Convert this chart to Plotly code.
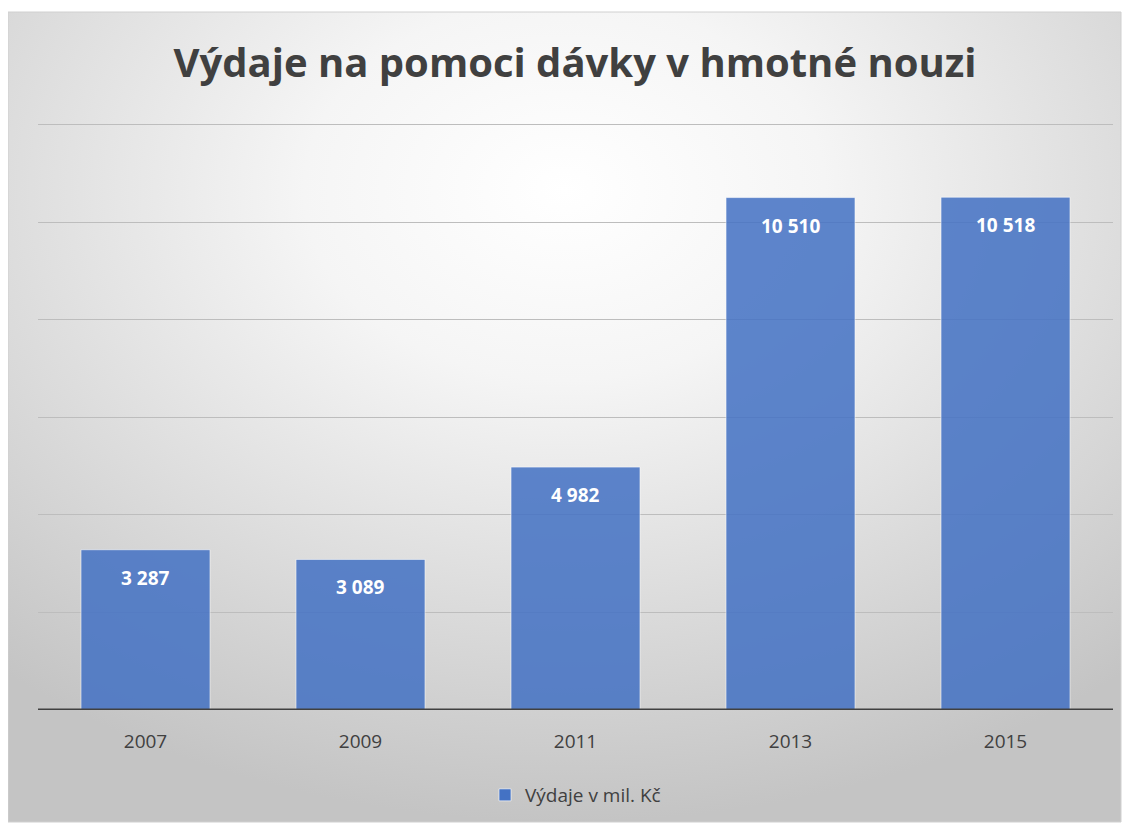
import base64
import plotly.graph_objects as go

years = ["2007", "2009", "2011", "2013", "2015"]
values = [3287, 3089, 4982, 10510, 10518]
series_name = "Výdaje v mil. Kč"
title = "Výdaje na pomoci dávky v hmotné nouzi"

OFF = 8  # default page body margin
Y_MAX = 12060
W, H = 1131 - OFF, 825 - OFF
B = 115
T = round(825 - B - 585 * Y_MAX / 12000) - OFF
L, R = 38 - OFF, 18
pw, ph = W - L - R, H - T - B

def px_x(px):
    return (px - OFF - L) / pw

def px_y(py):
    return (H - B - (py - OFF)) / ph

svg = """<svg xmlns='http://www.w3.org/2000/svg' width='1113' height='810' viewBox='0 0 1113 810' preserveAspectRatio='none'>
<defs><radialGradient id='g' cx='0.5' cy='0.22' r='0.78' gradientUnits='objectBoundingBox'>
<stop offset='0' stop-color='#ffffff'/><stop offset='0.3' stop-color='#f5f5f5'/><stop offset='1' stop-color='#c4c4c4'/>
</radialGradient></defs><rect width='1113' height='810' fill='url(#g)'/></svg>"""
src = "data:image/svg+xml;base64," + base64.b64encode(svg.encode()).decode()

fig = go.Figure()
fig.add_trace(go.Bar(
    x=years, y=values, name=series_name,
    marker=dict(color="#4472C4", opacity=0.86, line=dict(color="rgba(255,255,255,0.6)", width=1)),
    showlegend=True,
))

for i, yv in enumerate(values):
    fig.add_annotation(x=i, y=yv, text="<b>" + f"{yv:,}".replace(",", " ") + "</b>",
                       showarrow=False, yshift=-28, yanchor="middle",
                       font=dict(family="Open Sans", size=19, color="white"))

panel_x0, panel_x1 = px_x(8), px_x(1121)
panel_y0, panel_y1 = px_y(822), px_y(12)
fig.add_layout_image(dict(source=src, xref="paper", yref="paper", x=panel_x0, y=panel_y1,
                          sizex=panel_x1 - panel_x0, sizey=panel_y1 - panel_y0,
                          xanchor="left", yanchor="top", sizing="stretch", layer="below"))
fig.add_shape(type="rect", xref="paper", yref="paper", x0=panel_x0, x1=panel_x1, y0=panel_y0, y1=panel_y1,
              line=dict(color="#d0d0d0", width=1), fillcolor="rgba(0,0,0,0)", layer="below")
fig.add_shape(type="line", xref="paper", yref="y", x0=0, x1=1, y0=0, y1=0,
              line=dict(color="#404040", width=3), layer="above")

fig.update_layout(
    width=W, height=H,
    margin=dict(l=L, r=R, t=T, b=B, autoexpand=False),
    paper_bgcolor="white", plot_bgcolor="rgba(0,0,0,0)",
    title=dict(text="<b>" + title + "</b>", x=(575 - OFF) / W, xanchor="center", y=1 - (63 - OFF) / H,
               yanchor="middle", font=dict(family="Open Sans", size=40, color="#404040")),
    xaxis=dict(type="category", range=[-0.5, 4.5], showgrid=False, showline=False,
               ticks="outside", ticklen=14, tickcolor="rgba(0,0,0,0)", automargin=False,
               tickfont=dict(family="Open Sans", size=19, color="#404040")),
    yaxis=dict(range=[0, Y_MAX], tick0=0, dtick=2000, showticklabels=False, showgrid=True, automargin=False,
               gridcolor="#bdbdbd", gridwidth=1, zeroline=False, showline=False),
    legend=dict(orientation="h", x=0.5, xanchor="center", y=px_y(795), yanchor="middle",
                bgcolor="rgba(0,0,0,0)", font=dict(family="Open Sans", size=19, color="#404040"),
                itemwidth=30),
    bargap=0.4,
)
fig.write_html("out.html")
